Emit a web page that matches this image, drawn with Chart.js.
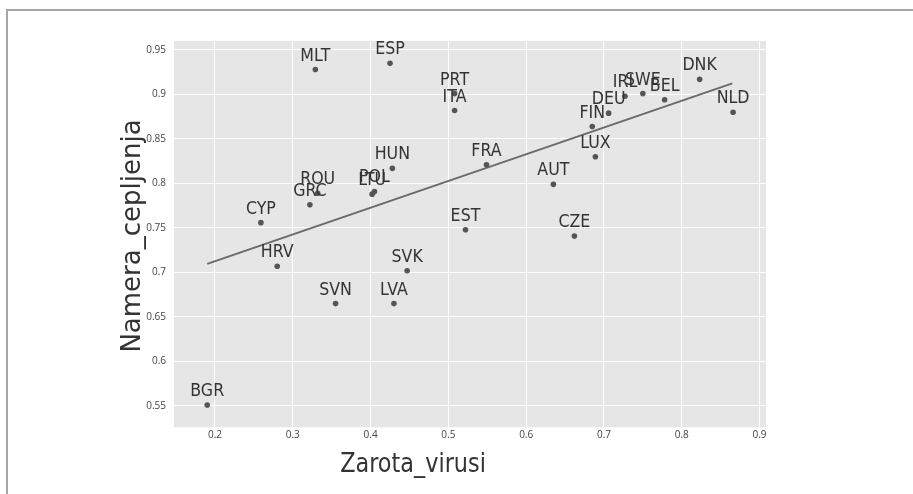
<!DOCTYPE html>
<html>
<head>
<meta charset="utf-8">
<script src="https://cdn.jsdelivr.net/npm/chart.js@4.4.1/dist/chart.umd.min.js"></script>
<style>
  html, body { margin: 0; padding: 0; background: #fff; overflow: hidden; }
  #frame { position: absolute; left: 6px; top: 9px; width: 920px; height: 500px;
           border-top: 2px solid #a6a6a6; border-left: 2px solid #a6a6a6; }
  canvas { position: absolute; left: 0; top: 0; }
</style>
</head>
<body>
<div id="frame"></div>
<canvas id="myChart" width="913" height="494"></canvas>
<script>
// countries and their values
var countries = ['BGR', 'CYP', 'HRV', 'GRC', 'ROU', 'MLT', 'ESP', 'POL', 'LTU', 'HUN',
                 'SVN', 'LVA', 'SVK', 'PRT', 'ITA', 'EST', 'FRA', 'AUT', 'CZE', 'FIN',
                 'LUX', 'DEU', 'IRL', 'SWE', 'BEL', 'DNK', 'NLD'];
var zarota = [0.190, 0.259, 0.280, 0.322, 0.332, 0.329, 0.425, 0.405, 0.402, 0.428,
              0.355, 0.430, 0.447, 0.508, 0.508, 0.522, 0.549, 0.635, 0.662, 0.685,
              0.689, 0.706, 0.727, 0.750, 0.778, 0.823, 0.866];
var namera = [0.551, 0.756, 0.707, 0.776, 0.789, 0.928, 0.935, 0.791, 0.788, 0.817,
              0.665, 0.665, 0.702, 0.901, 0.882, 0.748, 0.821, 0.799, 0.741, 0.864,
              0.830, 0.879, 0.898, 0.901, 0.894, 0.917, 0.880];

// regression line end points
var trendX = [0.190, 0.865];
var trendY = [0.7096, 0.9125];

var xTitle = 'Zarota_virusi';
var yTitle = 'Namera_cepljenja';

Chart.defaults.font.family = '"Open Sans", sans-serif';

var points = countries.map(function (c, i) { return {x: zarota[i], y: namera[i]}; });
var trend = trendX.map(function (x, i) { return {x: x, y: trendY[i]}; });

// text in the picture is a bit narrow, so squeeze it sideways
function narrowText(ctx, text, x, y, sx) {
    ctx.save();
    ctx.translate(x, y);
    ctx.scale(sx, 1);
    ctx.fillText(text, 0, 0);
    ctx.restore();
}

var plotBg = {
    id: 'plotBg',
    beforeDraw: function (chart) {
        var a = chart.chartArea, ctx = chart.ctx;
        ctx.save();
        ctx.fillStyle = '#e6e6e6';
        ctx.fillRect(a.left, a.top, a.right - a.left, a.bottom - a.top);
        ctx.restore();
    }
};

var pointLabels = {
    id: 'pointLabels',
    afterDatasetsDraw: function (chart) {
        var ctx = chart.ctx;
        var meta = chart.getDatasetMeta(0);
        ctx.save();
        ctx.font = '18px "DejaVu Sans", sans-serif';
        ctx.fillStyle = '#333';
        ctx.textAlign = 'center';
        ctx.textBaseline = 'alphabetic';
        meta.data.forEach(function (el, i) {
            narrowText(ctx, countries[i], el.x, el.y - 9, 0.88);
        });
        ctx.restore();
    }
};

var axisTitles = {
    id: 'axisTitles',
    afterDraw: function (chart) {
        var ctx = chart.ctx;
        ctx.save();
        ctx.fillStyle = '#333';
        ctx.textAlign = 'center';
        ctx.textBaseline = 'middle';
        ctx.font = '26px "DejaVu Sans", sans-serif';
        narrowText(ctx, xTitle, 413, 465, 0.86);
        ctx.translate(133, 236);
        ctx.rotate(-Math.PI / 2);
        ctx.fillText(yTitle, 0, 0);
        ctx.restore();
    }
};

var ctx = document.getElementById('myChart').getContext('2d');
var chart = new Chart(ctx, {
    type: 'scatter',
    data: {
        datasets: [{
            data: points,
            backgroundColor: '#555',
            borderWidth: 0,
            pointRadius: 2.8
        }, {
            type: 'line',
            data: trend,
            borderColor: '#6a6a6a',
            borderWidth: 2,
            pointRadius: 0,
            fill: false
        }]
    },
    options: {
        responsive: false,
        animation: false,
        devicePixelRatio: 1,
        layout: { padding: { top: 41, right: 147, left: 0, bottom: 0 } },
        plugins: { legend: { display: false }, tooltip: { enabled: false } },
        scales: {
            x: {
                type: 'linear',
                min: 0.1473,
                max: 0.9083,
                afterFit: function (s) { s.height = 66.7; },
                border: { display: false },
                grid: { color: '#fff', lineWidth: 1, drawTicks: false },
                ticks: {
                    stepSize: 0.1,
                    includeBounds: false,
                    padding: 2,
                    color: '#444',
                    font: { size: 10 },
                    callback: function (v) { return +v.toFixed(2); }
                }
            },
            y: {
                type: 'linear',
                min: 0.526,
                max: 0.9601,
                afterFit: function (s) { s.width = 174; },
                border: { display: false },
                grid: { color: '#fff', lineWidth: 1, drawTicks: false },
                ticks: {
                    stepSize: 0.05,
                    includeBounds: false,
                    padding: 8,
                    color: '#444',
                    font: { size: 10 },
                    callback: function (v) { return +v.toFixed(2); }
                }
            }
        }
    },
    plugins: [plotBg, pointLabels, axisTitles]
});
</script>
</body>
</html>
